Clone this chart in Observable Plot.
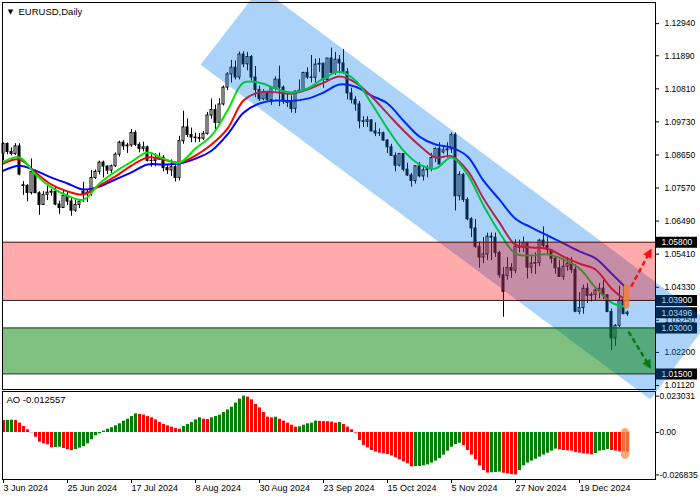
<!DOCTYPE html>
<html><head><meta charset="utf-8">
<script src="https://cdn.jsdelivr.net/npm/d3@7"></script>
<script src="https://cdn.jsdelivr.net/npm/@observablehq/plot@0.6"></script>
<style>
html,body{margin:0;padding:0;background:#fff;}
#chart{position:relative;width:700px;height:500px;overflow:hidden;}
#chart svg{position:absolute;left:0;top:0;}
</style></head><body><div id="chart"></div>
<script>
// ---- data (bar index 0 = 3 Jun 2024) ----
const tickBars = [0,16,32,48,64,80,96,112,128,144];
const tickLabels = ["3 Jun 2024","25 Jun 2024","17 Jul 2024","8 Aug 2024","30 Aug 2024","23 Sep 2024","15 Oct 2024","5 Nov 2024","27 Nov 2024","19 Dec 2024"];

const candleOpen = [1.0869,1.0901,1.0875,1.0868,1.0893,1.0766,1.0764,1.0741,1.0809,1.0740,
1.0702,1.0735,1.0742,1.0745,1.0703,1.0692,1.0732,1.0713,1.0683,1.0702,
1.0745,1.0738,1.0742,1.0790,1.0810,1.0840,1.0827,1.0814,1.0828,1.0866,
1.0905,1.0893,1.0896,1.0937,1.0898,1.0885,1.0890,1.0846,1.0845,1.0850,
1.0856,1.0822,1.0815,1.0825,1.0790,1.0910,1.0955,1.0930,1.0922,1.0920,
1.0918,1.0934,1.0994,1.1012,1.0970,1.1030,1.1085,1.1128,1.1150,1.1118,
1.1193,1.1161,1.1185,1.1118,1.1077,1.1047,1.1070,1.1044,1.1083,1.1111,
1.1085,1.1040,1.1035,1.1015,1.1072,1.1075,1.1133,1.1118,1.1117,1.1160,
1.1163,1.1110,1.1180,1.1133,1.1176,1.1164,1.1135,1.1066,1.1045,1.1030,
1.0975,1.0973,1.0978,1.0942,1.0935,1.0936,1.0912,1.0890,1.0862,1.0830,
1.0868,1.0817,1.0798,1.0780,1.0828,1.0795,1.0815,1.0818,1.0855,1.0885,
1.0873,1.0880,1.0883,1.0930,1.0730,1.0800,1.0718,1.0655,1.0625,1.0565,
1.0530,1.0540,1.0598,1.0595,1.0545,1.0472,1.0470,1.0496,1.0487,1.0565,
1.0562,1.0577,1.0497,1.0510,1.0512,1.0585,1.0568,1.0555,1.0526,1.0495,
1.0467,1.0500,1.0510,1.0490,1.0353,1.0365,1.0428,1.0405,1.0408,1.0422,
1.0428,1.0407,1.0352,1.0266,1.0307,1.0390,1.0345];
const candleHigh = [1.0904,1.0904,1.0888,1.0902,1.0902,1.0778,1.0768,1.0852,1.0816,1.0745,
1.0745,1.0762,1.0752,1.0761,1.0714,1.0748,1.0744,1.0723,1.0719,1.0720,
1.0776,1.0750,1.0815,1.0816,1.0845,1.0845,1.0830,1.0832,1.0872,1.0910,
1.0912,1.0903,1.0948,1.0944,1.0905,1.0907,1.0894,1.0866,1.0869,1.0871,
1.0863,1.0833,1.0849,1.0830,1.0926,1.1008,1.0983,1.0953,1.0936,1.0935,
1.0942,1.1004,1.1048,1.1028,1.1049,1.1090,1.1134,1.1174,1.1172,1.1201,
1.1202,1.1200,1.1190,1.1154,1.1090,1.1078,1.1073,1.1087,1.1120,1.1155,
1.1090,1.1070,1.1058,1.1074,1.1110,1.1135,1.1150,1.1190,1.1178,1.1180,
1.1165,1.1180,1.1214,1.1200,1.1190,1.1209,1.1147,1.1083,1.1055,1.1040,
1.0990,1.0990,1.0980,1.0970,1.0950,1.0940,1.0915,1.0900,1.0872,1.0870,
1.0868,1.0838,1.0805,1.0830,1.0840,1.0828,1.0830,1.0870,1.0888,1.0905,
1.0890,1.0905,1.0937,1.0937,1.0810,1.0805,1.0725,1.0660,1.0654,1.0580,
1.0595,1.0610,1.0610,1.0610,1.0550,1.0498,1.0530,1.0510,1.0588,1.0587,
1.0597,1.0580,1.0535,1.0545,1.0590,1.0630,1.0595,1.0555,1.0530,1.0520,
1.0525,1.0530,1.0530,1.0506,1.0415,1.0440,1.0445,1.0415,1.0430,1.0445,
1.0455,1.0408,1.0362,1.0311,1.0437,1.0436,1.0355];
const candleLow = [1.0846,1.0866,1.0862,1.0864,1.0797,1.0733,1.0712,1.0734,1.0746,1.0668,
1.0700,1.0716,1.0730,1.0699,1.0671,1.0690,1.0700,1.0665,1.0678,1.0690,
1.0710,1.0710,1.0730,1.0785,1.0800,1.0790,1.0801,1.0805,1.0825,1.0858,
1.0880,1.0870,1.0890,1.0892,1.0872,1.0875,1.0842,1.0825,1.0826,1.0847,
1.0810,1.0801,1.0795,1.0777,1.0780,1.0900,1.0922,1.0905,1.0905,1.0906,
1.0912,1.0930,1.0982,1.0948,1.0966,1.1025,1.1075,1.1100,1.1110,1.1110,
1.1150,1.1140,1.1106,1.1052,1.1040,1.1042,1.1040,1.1027,1.1074,1.1023,
1.1030,1.1020,1.1002,1.1000,1.1070,1.1070,1.1112,1.1100,1.1100,1.1135,
1.1083,1.1105,1.1128,1.1125,1.1130,1.1128,1.1045,1.1032,1.1008,1.0950,
1.0955,1.0955,1.0940,1.0925,1.0925,1.0910,1.0870,1.0860,1.0810,1.0826,
1.0810,1.0795,1.0760,1.0770,1.0790,1.0780,1.0790,1.0810,1.0840,1.0833,
1.0868,1.0855,1.0870,1.0682,1.0715,1.0710,1.0650,1.0595,1.0560,1.0495,
1.0510,1.0520,1.0520,1.0530,1.0462,1.0335,1.0456,1.0462,1.0477,1.0545,
1.0546,1.0460,1.0477,1.0475,1.0500,1.0555,1.0540,1.0510,1.0475,1.0465,
1.0455,1.0485,1.0478,1.0350,1.0343,1.0345,1.0380,1.0385,1.0390,1.0395,
1.0392,1.0350,1.0226,1.0240,1.0300,1.0345,1.0338];
const candleClose = [1.0901,1.0875,1.0868,1.0893,1.0801,1.0764,1.0741,1.0809,1.0740,1.0702,
1.0735,1.0742,1.0745,1.0703,1.0692,1.0732,1.0713,1.0683,1.0702,1.0712,
1.0738,1.0742,1.0790,1.0810,1.0840,1.0827,1.0814,1.0828,1.0866,1.0905,
1.0893,1.0896,1.0937,1.0898,1.0885,1.0890,1.0846,1.0845,1.0850,1.0856,
1.0822,1.0815,1.0825,1.0790,1.0910,1.0955,1.0930,1.0922,1.0920,1.0918,
1.0934,1.0994,1.1012,1.0970,1.1030,1.1085,1.1128,1.1150,1.1118,1.1193,
1.1161,1.1185,1.1118,1.1077,1.1047,1.1070,1.1044,1.1083,1.1111,1.1085,
1.1040,1.1035,1.1015,1.1072,1.1075,1.1133,1.1118,1.1117,1.1160,1.1163,
1.1110,1.1180,1.1133,1.1176,1.1164,1.1135,1.1066,1.1045,1.1030,1.0975,
1.0973,1.0978,1.0942,1.0935,1.0936,1.0912,1.0890,1.0862,1.0830,1.0868,
1.0817,1.0798,1.0780,1.0828,1.0795,1.0815,1.0818,1.0855,1.0885,1.0834,
1.0880,1.0883,1.0930,1.0730,1.0800,1.0718,1.0655,1.0625,1.0565,1.0530,
1.0540,1.0598,1.0595,1.0545,1.0472,1.0418,1.0496,1.0487,1.0565,1.0562,
1.0577,1.0497,1.0510,1.0512,1.0585,1.0568,1.0555,1.0526,1.0495,1.0467,
1.0500,1.0510,1.0490,1.0353,1.0365,1.0428,1.0405,1.0408,1.0422,1.0428,
1.0407,1.0352,1.0266,1.0307,1.0390,1.0345,1.0350];

const maBars = [0,4,8,12,16,20,24,28,32,36,40,44,48,52,56,60,64,68,72,76,80,84,88,92,96,100,104,108,112,116,120,124,128,132,136,140,144,148,152,155];
const maGreen = [1.0843,1.0857,1.0801,1.0759,1.0732,1.0719,1.0772,1.0811,1.0843,1.0873,1.0853,1.0840,1.0886,1.0928,1.1010,1.1101,1.1101,1.1082,1.1069,1.1082,1.1114,1.1137,1.1108,1.1033,1.0951,1.0879,1.0834,1.0821,1.0857,1.0801,1.0700,1.0612,1.0543,1.0537,1.0540,1.0524,1.0494,1.0432,1.0383,1.0370];
const maRed = [1.0837,1.0850,1.0808,1.0768,1.0746,1.0736,1.0765,1.0795,1.0830,1.0857,1.0850,1.0840,1.0863,1.0899,1.0951,1.1043,1.1070,1.1070,1.1065,1.1079,1.1101,1.1121,1.1101,1.1056,1.1000,1.0945,1.0896,1.0857,1.0861,1.0814,1.0723,1.0644,1.0572,1.0563,1.0559,1.0533,1.0510,1.0491,1.0429,1.0396];
const maBlue = [1.0814,1.0830,1.0814,1.0791,1.0772,1.0752,1.0762,1.0785,1.0808,1.0834,1.0834,1.0837,1.0853,1.0879,1.0932,1.1003,1.1033,1.1043,1.1041,1.1049,1.1069,1.1095,1.1088,1.1059,1.1033,1.0977,1.0925,1.0899,1.0889,1.0860,1.0781,1.0719,1.0657,1.0628,1.0602,1.0576,1.0550,1.0527,1.0478,1.0439];

const aoValues = [0.0076,0.0077,0.0078,0.0076,0.0059,0.0038,0.0017,-0.0002,-0.0030,-0.0061,
-0.0072,-0.0078,-0.0097,-0.0095,-0.0093,-0.0101,-0.0108,-0.0114,-0.0108,-0.0099,
-0.0089,-0.0072,-0.0046,-0.0021,-0.0008,0.0008,0.0021,0.0030,0.0042,0.0055,
0.0072,0.0084,0.0101,0.0118,0.0114,0.0110,0.0101,0.0093,0.0080,0.0063,
0.0051,0.0042,0.0034,0.0025,0.0021,0.0038,0.0051,0.0063,0.0080,0.0093,
0.0084,0.0082,0.0093,0.0101,0.0110,0.0127,0.0143,0.0160,0.0186,0.0211,
0.023031,0.0224,0.0207,0.0177,0.0156,0.0127,0.0097,0.0093,0.0097,0.0084,
0.0072,0.0059,0.0046,0.0034,0.0036,0.0046,0.0055,0.0059,0.0072,0.0070,
0.0069,0.0068,0.0066,0.0059,0.0063,0.0051,0.0034,0.0017,-0.0004,-0.0051,
-0.0082,-0.0097,-0.0114,-0.0124,-0.0131,-0.0135,-0.0139,-0.0148,-0.0160,-0.0173,
-0.0186,-0.0198,-0.0217,-0.0216,-0.0215,-0.0211,-0.0205,-0.0194,-0.0181,-0.0165,
-0.0143,-0.0118,-0.0093,-0.0076,-0.0068,-0.0084,-0.0114,-0.0143,-0.0173,-0.0211,
-0.0241,-0.0257,-0.0255,-0.0253,-0.0251,-0.0258,-0.0262,-0.0266,-0.026835,-0.0241,
-0.0211,-0.0194,-0.0181,-0.0169,-0.0156,-0.0143,-0.0131,-0.0118,-0.0105,-0.0110,
-0.0114,-0.0116,-0.0118,-0.0127,-0.0131,-0.0135,-0.0137,-0.0141,-0.0133,-0.0118,
-0.0114,-0.0108,-0.0114,-0.0118,-0.0122,-0.0124,-0.012557];

const priceTicks = [1.1294,1.1189,1.1081,1.0973,1.0865,1.0757,1.0649,1.0541,1.0433,1.0325,1.0220,1.0112];
const boxLevels = [1.058,1.039,1.03496,1.030,1.015];
const zoneHigh = [1.058,1.030];
const zoneLow = [1.039,1.015];
const aoTicks = [0.023031,0,-0.026835];
const aoTickLabels = ["0.023031","0.00","-0.026835"];

// channel corners (bar, price)
const channelBars = [49.25,64.25,176.25,161.75];
const channelPrices = [1.1160,1.1412,1.0321,1.0066];
// forecast arrows: start bar/price -> head bar/price
const arrowStartBar = [156.9,156.25];
const arrowStartPrice = [1.0435,1.0288];
const arrowEndBar = [161.6,161.4];
const arrowEndPrice = [1.0549,1.0177];

// ---- layout ----
const FONT = "'Liberation Sans', Arial, sans-serif";
const xDomain = [-0.25,163];
const xMax = xDomain[1];
const priceDomain = [1.0099,1.1363];
const aoDomain = [-0.02975,0.02595];

const candles = candleOpen.map((o,i)=>({i,o,h:candleHigh[i],l:candleLow[i],c:candleClose[i]}));
const maRows = maBars.map((b,k)=>({b,g:maGreen[k],r:maRed[k],u:maBlue[k]}));
const aoRows = aoValues.map((v,i)=>({i,v,up:i>0 && v>aoValues[i-1]}));
const channelRows = channelBars.map((b,k)=>({b,p:channelPrices[k]}));
const arrows = arrowStartBar.map((b,k)=>({x1:b,y1:arrowStartPrice[k],x2:arrowEndBar[k],y2:arrowEndPrice[k],
  color:k===0?"#f01414":"#0c780c",rot:k===0?28.5:149}));
const last = candles[candles.length-1];

const aoPlot = Plot.plot({
  width:700,height:500,marginLeft:2,marginRight:45,marginTop:391,marginBottom:21,
  x:{domain:xDomain,axis:null},y:{domain:aoDomain,axis:null},color:{type:"identity"},
  style:{background:"#fff",fontFamily:FONT,fontSize:"8.5px",color:"#000"},
  marks:[
    Plot.ruleX(aoRows,{x:"i",y1:0,y2:"v",stroke:d=>d.up?"#008000":"#ff0000",strokeWidth:3}),
    Plot.rect([0],{x1:154.45,x2:156.6,y1:-0.0171,y2:0.0025,fill:"#f58c50",fillOpacity:0.75,rx:5}),
    Plot.frame({stroke:"#000"}),
    Plot.ruleY(aoTicks,{y:d=>d,x1:xMax,x2:xMax+1,stroke:"#000"}),
    Plot.text(aoTicks,{y:d=>d,frameAnchor:"right",dx:4,textAnchor:"start",text:(d,i)=>aoTickLabels[i],fill:"#000"}),
    Plot.ruleX(tickBars,{x:d=>d,y1:aoDomain[0],y2:aoDomain[0]-0.0025,stroke:"#000"}),
    Plot.text(tickBars,{x:d=>d,frameAnchor:"bottom",dy:9,textAnchor:"start",lineAnchor:"middle",text:(d,i)=>tickLabels[i],fontSize:9,fill:"#000"}),
    Plot.text(["AO "+aoValues[aoValues.length-1].toFixed(6)],{frameAnchor:"top-left",dx:4,dy:8,textAnchor:"start",lineAnchor:"middle",text:d=>d,fontSize:9.5,fill:"#000"})
  ]
});

const main = Plot.plot({
  width:700,height:500,marginLeft:2,marginRight:45,marginTop:2,marginBottom:111,
  x:{domain:xDomain,axis:null},y:{domain:priceDomain,axis:null},color:{type:"identity"},
  style:{background:"transparent",overflow:"visible",fontFamily:FONT,fontSize:"8.5px",color:"#000"},
  marks:[
    Plot.ruleX(candles,{x:"i",y1:"l",y2:"h",stroke:"#000",strokeWidth:1}),
    Plot.rect(candles,{x1:d=>d.i-0.25,x2:d=>d.i+0.25,y1:"o",y2:"c",fill:d=>d.c>=d.o?"#fff":"#000",stroke:"#000",strokeWidth:1}),
    Plot.line(maRows,{x:"b",y:"u",stroke:"#0000ff",strokeWidth:2,curve:"catmull-rom"}),
    Plot.line(maRows,{x:"b",y:"r",stroke:"#ff0000",strokeWidth:2,curve:"catmull-rom"}),
    Plot.line(maRows,{x:"b",y:"g",stroke:"#00e600",strokeWidth:2,curve:"catmull-rom"}),
    Plot.ruleY(priceTicks,{y:d=>d,x1:xMax,x2:xMax+1,stroke:"#000"}),
    Plot.text(priceTicks,{y:d=>d,frameAnchor:"right",dx:9,textAnchor:"start",text:d=>d.toFixed(5),fill:"#000"}),
    Plot.ruleY(boxLevels,{y:d=>d,x1:xMax+0.25,x2:xMax+10.5,stroke:"#000",strokeWidth:11}),
    Plot.text(boxLevels,{y:d=>d,x:xMax+0.25,dx:5,textAnchor:"start",text:d=>d.toFixed(5),fill:"#fff"}),
    Plot.line(channelRows,{x:"b",y:"p",fill:"rgb(0,120,240)",fillOpacity:0.33,stroke:"none"}),
    Plot.rect([0],{x1:xDomain[0],x2:xMax,y1:zoneLow[0],y2:zoneHigh[0],fill:"#ff0000",fillOpacity:0.33}),
    Plot.rect([0],{x1:xDomain[0],x2:xMax,y1:zoneLow[1],y2:zoneHigh[1],fill:"#008000",fillOpacity:0.5}),
    Plot.ruleY([zoneHigh[0],zoneLow[0],zoneHigh[1],zoneLow[1]],{y:d=>d,x1:xDomain[0],x2:xMax,stroke:(d,i)=>["#5c1010","#2e0f14","#0b4a22","#141a14"][i],strokeWidth:1}),
    Plot.rect([last],{x1:d=>d.i-0.95,x2:d=>d.i+0.6,y1:1.0362,y2:1.0440,fill:"#f07d3c",fillOpacity:0.85,rx:3}),
    Plot.link(arrows,{x1:"x1",y1:"y1",x2:"x2",y2:"y2",stroke:"color",strokeWidth:2.5,strokeDasharray:"5,3"}),
    Plot.text(arrows,{x:"x2",y:"y2",text:()=>"\u25B2",rotate:"rot",fill:"color",fontSize:12,fontFamily:"DejaVu Sans"}),
    Plot.frame({stroke:"#000"}),
    Plot.text(["\u25BC"],{frameAnchor:"top-left",dx:8,dy:9,text:d=>d,textAnchor:"middle",lineAnchor:"middle",fontSize:7,fontFamily:"DejaVu Sans",fill:"#000"}),
    Plot.text(["EURUSD,Daily"],{frameAnchor:"top-left",dx:16,dy:9,text:d=>d,textAnchor:"start",lineAnchor:"middle",fontSize:9.5,fill:"#000"})
  ]
});

const host = document.getElementById("chart");
host.appendChild(aoPlot);
host.appendChild(main);
</script>
</body></html>
